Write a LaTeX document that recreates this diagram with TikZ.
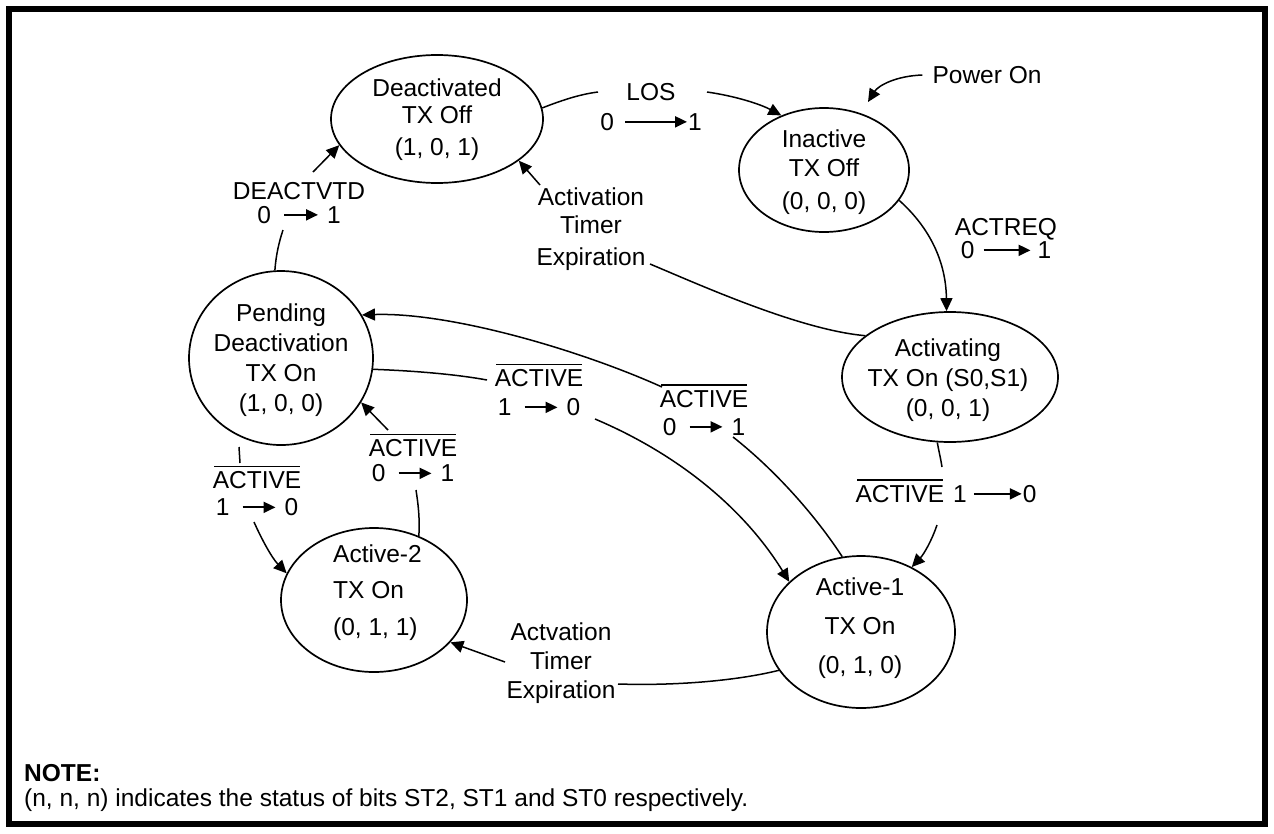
\documentclass[tikz,border=0pt]{standalone}
\usepackage{fontspec}
\setmainfont{Liberation Sans}
\usetikzlibrary{arrows.meta,shapes.geometric}
\newcommand\fs[1]{\fontsize{24.5}{#1}\selectfont}
\newcommand\rarr[1]{\tikz[baseline={(0pt,-8.6pt)}]\draw[line width=2pt,-{Triangle[length=12pt,width=11pt]}] (0pt,0pt)--(#1,0pt);}
\newcommand\nact{\setbox0=\hbox{ACTIVE}\rlap{\hbox to\wd0{\hss\rule[21.5pt]{\dimexpr\wd0-3pt\relax}{1.6pt}\hss}}\box0}
\tikzset{
  state/.style={draw, ellipse, line width=1.7pt, fill=white, inner sep=0pt},
  lbl/.style={font=\fs{27}, align=center, inner sep=0pt},
  conn/.style={line width=1.5pt},
  arr/.style={conn, -{Triangle[length=13pt,width=12pt]}},
}
\begin{document}
\begin{tikzpicture}[x=1pt,y=-1pt]
\useasboundingbox (0,0) rectangle (1274,833);
\draw[line width=6pt] (9,9) rectangle (1265,824);

% states
\node[state, minimum width=212pt, minimum height=128pt] (deact) at (437,119) {};
\node[state, minimum width=170pt, minimum height=124pt] (inact) at (824,170) {};
\node[state, minimum width=216pt, minimum height=130pt] (act) at (950,377) {};
\node[state, minimum width=184pt, minimum height=174pt] (pend) at (281,358) {};
\node[state, minimum width=186pt, minimum height=144pt] (a2) at (374,600) {};
\node[state, minimum width=188pt, minimum height=152pt] (a1) at (861,632) {};

% state texts
\node[lbl, font=\fs{27}] (deactT) at (437,120) {Deactivated\\TX Off\\[5pt](1, 0, 1)};
\node[lbl, font=\fs{29}] (inactT) at (824,172) {Inactive\\TX Off\\[4pt](0, 0, 0)};
\node[lbl, font=\fs{30}] (actT) at (948,380) {Activating\\TX On (S0,S1)\\(0, 0, 1)};
\node[lbl, font=\fs{30}] (pendT) at (281,360) {Pending\\Deactivation\\TX On\\(1, 0, 0)};
\node[lbl, font=\fs{36}, align=left, anchor=west] (a2T) at (333,593) {Active-2\\TX On\\[1pt](0, 1, 1)};
\node[lbl, font=\fs{39}] (a1T) at (860,628) {Active-1\\TX On\\(0, 1, 0)};

% labels
\node[lbl] (los) at (651,107) {LOS\\[3pt]0\hspace{10pt}\rarr{62pt}1};
\node[lbl] (pwr) at (987,75) {Power On};
\node[lbl] (actreq) at (1006,239) {ACTREQ\\[-4pt]0\hspace{8pt}\rarr{47pt}\hspace{6pt}1};
\node[lbl, font=\fs{28}] (ate1) at (591,229) {Activation\\Timer\\[4pt]Expiration};
\node[lbl, font=\fs{24}] (deactvtd) at (299,203) {DEACTVTD\\0\hspace{12pt}\rarr{34pt}\hspace{8pt}1};
\node[lbl, font=\fs{29}] (m10) at (539,390) {\nact\\1\hspace{12pt}\rarr{33pt}\hspace{8pt}0};
\node[lbl, font=\fs{28}] (m01) at (704,410) {\nact\\0\hspace{12pt}\rarr{33pt}\hspace{8pt}1};
\node[lbl, font=\fs{27}] (l10) at (257,491) {\nact\\1\hspace{12pt}\rarr{33pt}\hspace{8pt}0};
\node[lbl, font=\fs{25}] (l01) at (413,458) {\nact\\0\hspace{12pt}\rarr{33pt}\hspace{8pt}1};
\node[lbl] (r10) at (946,491) {\nact\hspace{9pt}1\hspace{6pt}\rarr{48pt}0};
\node[lbl, font=\fs{29}] (ate2) at (561,663) {Actvation\\Timer\\Expiration};
\node[lbl, anchor=west] (note) at (24,773) {\bfseries NOTE:};
\node[lbl, anchor=west] (notetxt) at (24,800) {(n, n, n) indicates the status of bits ST2, ST1 and ST0 respectively.};

% free ends
\coordinate (los1) at (598,92);
\coordinate (los2) at (707,92);
\coordinate (pw) at (868,102);
\coordinate (ate1a) at (650,264);
\coordinate (ate1b) at (540,185);
\coordinate (dv1) at (283,230);
\coordinate (dv2) at (313,172);
\coordinate (ra1) at (942,467);
\coordinate (ra2) at (937,525);
\coordinate (m10a) at (487,380);
\coordinate (m10b) at (595,419);
\coordinate (m01a) at (733,437);
\coordinate (m01b) at (662,387);
\coordinate (l10s) at (239,447);
\coordinate (l10a) at (240,463);
\coordinate (l10b) at (254,522);
\coordinate (l01a) at (416,490);
\coordinate (l01b) at (388,430);
\coordinate (ate2a) at (618,684);
\coordinate (ate2b) at (505,662);

% connectors
\draw[conn] (deact.6) .. controls (565,99) and (582,94) .. (los1);
\draw[arr] (los2) .. controls (735,96) and (760,104) .. (inact.128);
\draw[arr] ([xshift=-10pt]pwr.west) .. controls (895,76) and (878,86) .. (pw);
\draw[arr] (inact.-22) .. controls (930,228) and (946,262) .. (act.93);
\draw[conn] (act.154) .. controls (800,330) and (700,285) .. (ate1a);
\draw[arr] (ate1b) -- (deact.333);
\draw[conn] (pend.94) .. controls (276,255) and (279,242) .. (dv1);
\draw[arr] (dv2) -- (deact.195);
\draw[conn] (act.259) .. controls (939,452) and (941,460) .. (ra1);
\draw[arr] (ra2) .. controls (932,540) and (924,554) .. (a1.52);
\draw[conn] (pend.353) .. controls (420,371) and (460,375) .. (m10a);
\draw[arr] (m10b) .. controls (680,455) and (745,510) .. (a1.145);
\draw[conn] (a1.104) .. controls (815,515) and (775,470) .. (m01a);
\draw[arr] (m01b) .. controls (580,350) and (450,312) .. (pend.28);
\draw[conn] (l10s) -- (l10a);
\draw[arr] (l10b) .. controls (262,540) and (272,558) .. (a2.163);
\draw[conn] (a2.55) .. controls (420,518) and (418,503) .. (l01a);
\draw[arr] (l01b) -- (pend.331);
\draw[conn] (a1.205) .. controls (740,680) and (680,686) .. (ate2a);
\draw[arr] (ate2b) -- (a2.331);
\end{tikzpicture}
\end{document}
